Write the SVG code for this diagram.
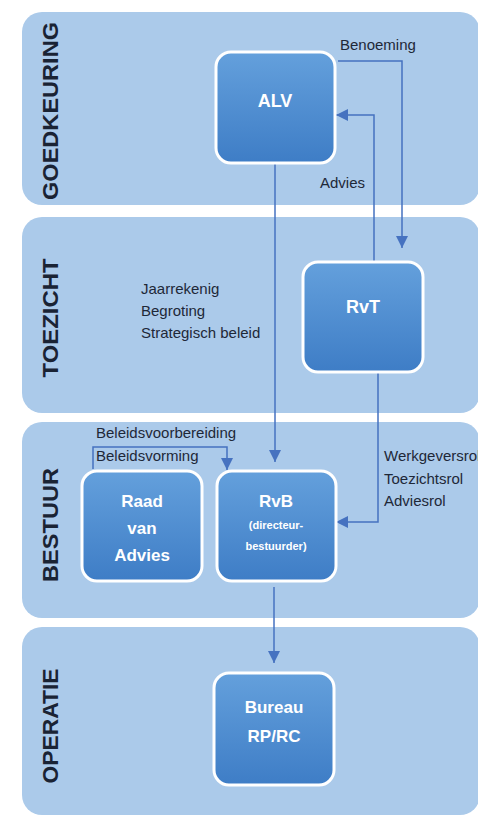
<svg xmlns="http://www.w3.org/2000/svg" width="478" height="820" viewBox="0 0 478 820">
<defs>
<linearGradient id="ng" x1="0" y1="0" x2="0" y2="1">
<stop offset="0" stop-color="#64a0dc"/>
<stop offset="1" stop-color="#3e7dc6"/>
</linearGradient>
<marker id="ah" viewBox="0 0 12 12" refX="12" refY="6" markerWidth="12" markerHeight="12" markerUnits="userSpaceOnUse" orient="auto">
<path d="M0,0 L12,6 L0,12 Z" fill="#4672c0"/>
</marker>
<style>
.band{fill:#abcaea}
.node{fill:url(#ng);stroke:#ffffff;stroke-width:3}
.nt{font-family:"Liberation Sans",Arial,sans-serif;font-weight:bold;fill:#ffffff;text-anchor:middle}
.lbl{font-family:"Liberation Sans",Arial,sans-serif;font-size:15px;fill:#1e2838}
.bl{font-family:"Liberation Sans",Arial,sans-serif;font-size:22px;font-weight:bold;fill:#1a2334;text-anchor:middle}
.con{fill:none;stroke:#4672c0;stroke-width:1.5}
</style>
</defs>
<rect width="478" height="820" fill="#ffffff"/>
<g id="bands">
<rect class="band" x="22" y="12" width="458" height="193" rx="20"/>
<rect class="band" x="22" y="217" width="458" height="196" rx="20"/>
<rect class="band" x="22" y="422" width="458" height="196" rx="20"/>
<rect class="band" x="22" y="627" width="458" height="188" rx="20"/>
<text class="bl" transform="translate(58,111) rotate(-90)" textLength="178" lengthAdjust="spacingAndGlyphs">GOEDKEURING</text>
<text class="bl" transform="translate(58,318) rotate(-90)" textLength="119" lengthAdjust="spacingAndGlyphs">TOEZICHT</text>
<text class="bl" transform="translate(58,525) rotate(-90)" textLength="114" lengthAdjust="spacingAndGlyphs">BESTUUR</text>
<text class="bl" transform="translate(58,726) rotate(-90)" textLength="115" lengthAdjust="spacingAndGlyphs">OPERATIE</text>
</g>
<g id="connectors">
<path class="con" d="M275,163 L275,462" marker-end="url(#ah)"/>
<path class="con" d="M374,262 L374,115 L336,115" marker-end="url(#ah)"/>
<path class="con" d="M338,61 L402,61 L402,248" marker-end="url(#ah)"/>
<path class="con" d="M378,372 L378,522 L336,522" marker-end="url(#ah)"/>
<path class="con" d="M93,469 L93,447 L227,447 L227,470" marker-end="url(#ah)"/>
<path class="con" d="M274,587 L274,663" marker-end="url(#ah)"/>
<text class="lbl" x="340" y="50">Benoeming</text>
<text class="lbl" x="320" y="188">Advies</text>
<text class="lbl" x="141" y="294">Jaarrekenig</text>
<text class="lbl" x="141" y="316">Begroting</text>
<text class="lbl" x="141" y="338">Strategisch beleid</text>
<text class="lbl" x="96" y="438">Beleidsvoorbereiding</text>
<text class="lbl" x="96" y="461">Beleidsvorming</text>
<text class="lbl" x="384" y="461">Werkgeversrol</text>
<text class="lbl" x="384" y="484">Toezichtsrol</text>
<text class="lbl" x="384" y="506">Adviesrol</text>
</g>
<g id="ALV">
<rect class="node" x="216" y="52" width="119" height="111" rx="15"/>
<text class="nt" x="275" y="107" font-size="18">ALV</text>
</g>
<g id="RvT">
<rect class="node" x="303" y="262" width="120" height="110" rx="15"/>
<text class="nt" x="363" y="313" font-size="18">RvT</text>
</g>
<g id="RaadVanAdvies">
<rect class="node" x="82" y="471" width="120" height="110" rx="15"/>
<text class="nt" x="142" y="507" font-size="17">Raad</text>
<text class="nt" x="142" y="534" font-size="17">van</text>
<text class="nt" x="142" y="561" font-size="17">Advies</text>
</g>
<g id="RvB">
<rect class="node" x="217" y="471" width="119" height="110" rx="15"/>
<text class="nt" x="276" y="507" font-size="17">RvB</text>
<text class="nt" x="276" y="529" font-size="11">(directeur-</text>
<text class="nt" x="276" y="550" font-size="11">bestuurder)</text>
</g>
<g id="Bureau">
<rect class="node" x="214" y="673" width="120" height="112" rx="15"/>
<text class="nt" x="274" y="713" font-size="17">Bureau</text>
<text class="nt" x="274" y="742" font-size="17">RP/RC</text>
</g>
</svg>
